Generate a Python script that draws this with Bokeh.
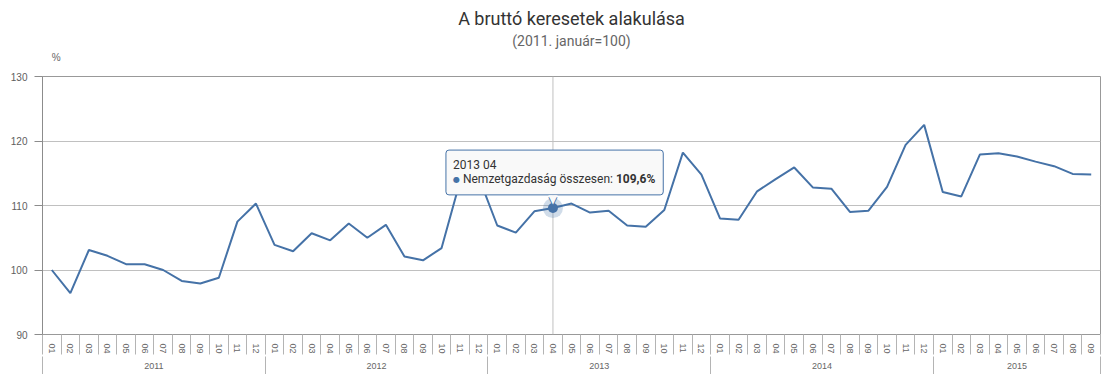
from bokeh.plotting import figure
from bokeh.models import Range1d, LinearAxis, FixedTicker, Label, Span
from bokeh.layouts import column
from bokeh.embed import file_html
from bokeh.resources import INLINE

# ---------------- data ----------------
title_text = "A bruttó keresetek alakulása"
subtitle_text = "(2011. január=100)"
unit_text = "%"
series_name = "Nemzetgazdaság összesen"

years = ["2011", "2012", "2013", "2014", "2015"]
months_in_year = [12, 12, 12, 12, 9]
month_labels = ["01", "02", "03", "04", "05", "06", "07", "08", "09", "10", "11", "12"]

values_2011 = [100.0, 96.4, 103.1, 102.2, 100.9, 100.9, 100.0, 98.3, 97.9, 98.8, 107.5, 110.3]
values_2012 = [103.9, 102.9, 105.7, 104.6, 107.2, 105.0, 107.0, 102.1, 101.5, 103.4, 113.8, 114.4]
values_2013 = [106.9, 105.8, 109.1, 109.6, 110.3, 108.9, 109.2, 106.9, 106.7, 109.3, 118.2, 114.8]
values_2014 = [108.0, 107.8, 112.2, 114.1, 115.9, 112.8, 112.6, 109.0, 109.2, 112.9, 119.4, 122.5]
values_2015 = [112.1, 111.4, 117.9, 118.1, 117.6, 116.8, 116.1, 114.9, 114.8]

y_ticks = [90, 100, 110, 120, 130]
hover_year, hover_month = "2013", "04"

# ---------------- derived ----------------
values = values_2011 + values_2012 + values_2013 + values_2014 + values_2015
cat_months, cat_years = [], []
for yr, n in zip(years, months_in_year):
    for m in month_labels[:n]:
        cat_months.append(m)
        cat_years.append(yr)
N = len(values)
xs = [i + 0.5 for i in range(N)]

year_centers, year_bounds = [], [0]
start = 0
for n in months_in_year:
    year_centers.append(start + n / 2)
    start += n
    year_bounds.append(start)

hover_i = [i for i in range(N) if cat_years[i] == hover_year and cat_months[i] == hover_month][0]
hx, hy = xs[hover_i], values[hover_i]

SERIES = "#4572A7"
TICK_FONT = "Liberation Sans"
UI_FONT = "Roboto"
W = 1110
HEAD_H = 70

# ---------------- header (titles) ----------------
head = figure(width=W, height=HEAD_H, x_range=Range1d(0, W), y_range=Range1d(HEAD_H, 0),
              output_backend="svg", toolbar_location=None,
              min_border=0, x_axis_location=None, y_axis_location=None,
              background_fill_color="white", border_fill_color="white")
head.outline_line_color = None
head.grid.visible = False
head.add_layout(Label(x=W / 2, y=18, text=title_text, text_align="center", text_baseline="middle",
                      text_font=UI_FONT, text_font_size="18px", text_color="#333333"))
head.add_layout(Label(x=W / 2, y=40, text=subtitle_text, text_align="center", text_baseline="middle",
                      text_font=UI_FONT, text_font_size="14px", text_color="#666666"))
head.add_layout(Label(x=14.5, y=57, text=unit_text, text_align="center", text_baseline="middle",
                      text_font=TICK_FONT, text_font_size="10px", text_color="#666666"))

# ---------------- main chart ----------------
p = figure(frame_width=1058, frame_height=258,
           x_range=Range1d(0, N), y_range=Range1d(y_ticks[0], y_ticks[-1]),
           output_backend="svg", toolbar_location=None,
           min_border_left=42, min_border_right=10, min_border_top=6, min_border_bottom=40,
           x_axis_location=None, background_fill_color="white", border_fill_color="white")

p.outline_line_color = "#999999"
p.outline_line_width = 1
p.xgrid.visible = False
p.ygrid.ticker = FixedTicker(ticks=y_ticks)
p.ygrid.grid_line_color = "#c0c0c0"

yax = p.yaxis[0]
yax.ticker = FixedTicker(ticks=y_ticks, minor_ticks=[])
yax.axis_line_color = "#8c8c8c"
yax.major_tick_line_color = "#8c8c8c"
yax.major_tick_out = 8
yax.major_tick_in = 0
yax.minor_tick_line_color = None
yax.major_label_standoff = 7
yax.major_label_text_font = TICK_FONT
yax.major_label_text_font_size = "10px"
yax.major_label_text_color = "#606060"

# month row
ax1 = LinearAxis(ticker=FixedTicker(ticks=xs, minor_ticks=list(range(N + 1))),
                 major_label_overrides={x: m for x, m in zip(xs, cat_months)})
ax1.axis_line_color = None
ax1.major_tick_line_color = None
ax1.major_tick_out = 0
ax1.major_tick_in = 0
ax1.minor_tick_line_color = "#b4b4b4"
ax1.minor_tick_out = 20
ax1.minor_tick_in = 0
ax1.major_label_orientation = "vertical"
ax1.major_label_standoff = -11
ax1.major_label_text_font = TICK_FONT
ax1.major_label_text_font_size = "9px"
ax1.major_label_text_color = "#666666"
p.add_layout(ax1, "below")

# year row
ax2 = LinearAxis(ticker=FixedTicker(ticks=year_centers, minor_ticks=year_bounds),
                 major_label_overrides={x: y for x, y in zip(year_centers, years)})
ax2.axis_line_color = None
ax2.major_tick_line_color = None
ax2.major_tick_out = 0
ax2.major_tick_in = 0
ax2.minor_tick_line_color = "#b4b4b4"
ax2.minor_tick_out = 20
ax2.minor_tick_in = 0
ax2.major_label_standoff = -14
ax2.major_label_text_font = TICK_FONT
ax2.major_label_text_font_size = "9px"
ax2.major_label_text_color = "#666666"
p.add_layout(ax2, "below")

# crosshair
p.add_layout(Span(location=hx, dimension="height", line_color="#c0c0c0", line_width=1, level="underlay"))

# series
p.line(xs, values, line_color=SERIES, line_width=2)
p.scatter([hx], [hy], size=20, fill_color=SERIES, fill_alpha=0.25, line_color=None)
p.scatter([hx], [hy], size=10, fill_color=SERIES, line_color=None)

# tooltip
BOX_BG = "#f9f9f9"
tip_line2 = "\u25cf " + series_name + ": "
tip_val = f"{hy:.1f}".replace(".", ",") + "%"
tip_title = f"{hover_year} {hover_month}"
p.add_layout(Label(x=hx, y=hy, x_offset=-107, y_offset=58, anchor="top_left",
                   text=tip_title + "\n" + tip_line2 + tip_val,
                   text_font=UI_FONT, text_font_size="12px", text_color=BOX_BG,
                   padding=dict(left=8, right=8, top=7, bottom=7), border_radius=3,
                   background_fill_color=BOX_BG, background_fill_alpha=1.0,
                   border_line_color=SERIES, border_line_width=1))
p.add_layout(Label(x=hx, y=hy, x_offset=0, y_offset=7.5, text="\u25bc",
                   text_align="center", text_baseline="alphabetic",
                   text_font="DejaVu Sans", text_font_size="12px", text_color=SERIES))
p.add_layout(Label(x=hx, y=hy, x_offset=0, y_offset=9, text="\u25bc",
                   text_align="center", text_baseline="alphabetic",
                   text_font="DejaVu Sans", text_font_size="12px", text_color=BOX_BG))
p.add_layout(Label(x=hx, y=hy, x_offset=-100, y_offset=43, text=tip_title,
                   text_align="left", text_baseline="middle",
                   text_font=UI_FONT, text_font_size="12px", text_color="#333333"))
p.add_layout(Label(x=hx, y=hy, x_offset=-100, y_offset=29, text="\u25cf",
                   text_align="left", text_baseline="middle",
                   text_font="DejaVu Sans", text_font_size="8px", text_color=SERIES))
p.add_layout(Label(x=hx, y=hy, x_offset=-90, y_offset=29, text=series_name + ":",
                   text_align="left", text_baseline="middle",
                   text_font=UI_FONT, text_font_size="12px", text_color="#333333"))
p.add_layout(Label(x=hx, y=hy, x_offset=63, y_offset=29, text=tip_val,
                   text_align="left", text_baseline="middle",
                   text_font=UI_FONT, text_font_size="12px", text_font_style="bold",
                   text_color="#333333"))

layout = column(head, p, spacing=0)
open("out.html", "w").write(file_html(layout, INLINE))
